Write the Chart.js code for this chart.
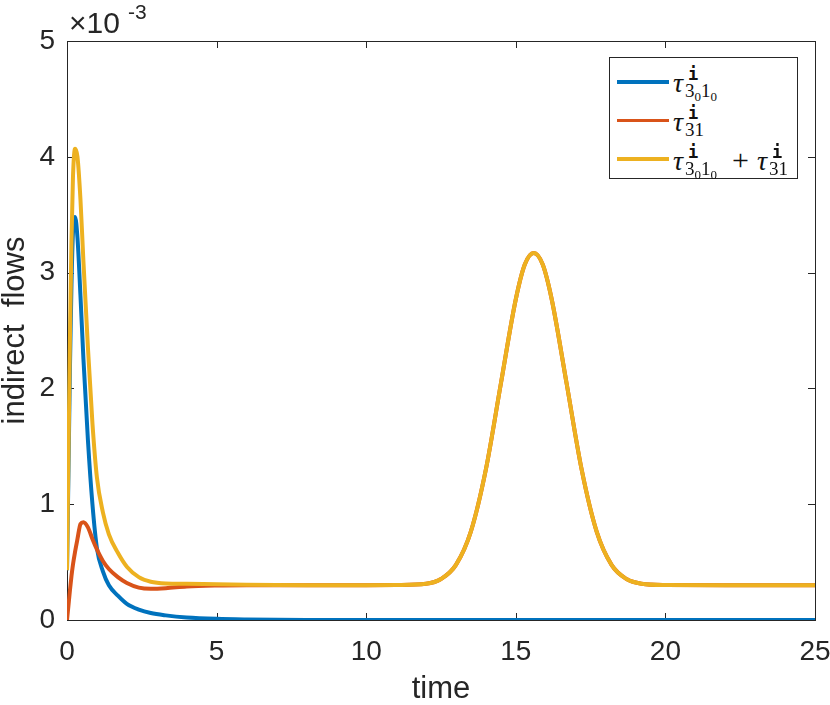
<!DOCTYPE html>
<html>
<head>
<meta charset="utf-8">
<script src="https://cdn.jsdelivr.net/npm/chart.js@4.4.0/dist/chart.umd.min.js"></script>
<style>
  body { margin: 0; background: #fff; }
  #wrap { position: relative; width: 830px; height: 705px; }
  .ex { position: absolute; font-family: "Liberation Sans", Arial, sans-serif; color: #262626; line-height: 1; white-space: nowrap; }
  #legend { position: absolute; left: 609px; top: 57px; width: 187px; height: 120px; border: 1px solid #262626; background: #fff; }
  .row { position: absolute; left: 7px; height: 38px; width: 178px; white-space: nowrap; }
  .sw { position: absolute; left: 0; width: 52px; height: 3.5px; }
  .lab { position: absolute; left: 56px; top: 7px; font: italic 28px "Liberation Serif", "DejaVu Serif", serif; line-height: 28px; color: #111; }
  .scr { display: inline-block; position: relative; height: 0; font-style: normal; }
  .sup { position: absolute; left: 5px; top: -26px; font: bold 17px "DejaVu Sans Mono", monospace; line-height: 17px; }
  .sub { position: absolute; left: 2px; top: -11px; font: 19px "Liberation Serif", serif; line-height: 19px; }
  .sub small { font-size: 13px; position: relative; top: 4px; }
  .plus { font-style: normal; font-size: 30px; margin: 0 8px 0 14px; }
</style>
</head>
<body>
<div id="wrap">
  <canvas id="chart" width="830" height="705"></canvas>
  <div class="ex" style="left:69px; top:8px; font-size:30px;">×10</div>
  <div class="ex" style="left:128px; top:1px; font-size:21px;">-3</div>
  <div id="legend"></div>
</div>
<script>
// values, y in units of 1e-3
const time = [0, 0.05, 0.1, 0.15, 0.2, 0.27, 0.35, 0.45, 0.55, 0.7, 0.85, 1.0, 1.2, 1.4, 1.7, 2.0, 2.4, 2.8, 3.3, 4, 5, 6, 8, 10, 11, 12, 12.5, 13, 13.5, 14, 14.5, 15, 15.3, 15.6, 15.9, 16.2, 16.7, 17.2, 17.7, 18.2, 18.7, 19.2, 20, 22, 25];
const tauBlue = [0.43, 1.3, 2.2, 2.9, 3.35, 3.48, 3.3, 2.8, 2.25, 1.55, 1.0, 0.62, 0.42, 0.30, 0.21, 0.14, 0.09, 0.06, 0.04, 0.022, 0.01, 0.005, 0.001, 0, 0, 0, 0, 0, 0, 0, 0, 0, 0, 0, 0, 0, 0, 0, 0, 0, 0, 0, 0, 0, 0];
const tauRed = [0, 0.13, 0.26, 0.38, 0.48, 0.59, 0.7, 0.83, 0.845, 0.8, 0.7, 0.61, 0.51, 0.44, 0.37, 0.32, 0.28, 0.27, 0.275, 0.29, 0.298, 0.30, 0.30, 0.30, 0.302, 0.313, 0.354, 0.476, 0.765, 1.30, 2.04, 2.77, 3.07, 3.17, 3.07, 2.77, 2.04, 1.30, 0.765, 0.476, 0.354, 0.313, 0.302, 0.30, 0.30];
const tauSum = [0.43, 1.43, 2.46, 3.28, 3.83, 4.07, 4.0, 3.63, 3.09, 2.35, 1.7, 1.23, 0.93, 0.74, 0.58, 0.46, 0.37, 0.33, 0.315, 0.312, 0.308, 0.305, 0.301, 0.30, 0.302, 0.313, 0.354, 0.476, 0.765, 1.30, 2.04, 2.77, 3.07, 3.17, 3.07, 2.77, 2.04, 1.30, 0.765, 0.476, 0.354, 0.313, 0.302, 0.30, 0.30];
const xTicks = [0, 5, 10, 15, 20, 25];
const yTicks = [0, 1, 2, 3, 4, 5];
const colors = ['#0072BD', '#D95319', '#EDB120'];
const subA = '3<small>0</small>1<small>0</small>';
const subB = '31';

function pts(ys){ return time.map((t, i) => ({x: t, y: ys[i]})); }
function tau(sub, w){
  return 'τ<span class="scr" style="width:' + w + 'px"><span class="sup">i</span><span class="sub">' + sub + '</span></span>';
}

// legend
const legendRows = [tau(subA, 35), tau(subB, 22), tau(subA, 35) + '<span class="plus">+</span>' + tau(subB, 22)];
const legend = document.getElementById('legend');
legendRows.forEach((html, i) => {
  let row = document.createElement('div');
  row.className = 'row';
  row.style.top = (4 + i * 38.5) + 'px';
  row.innerHTML = '<div class="sw" style="top:18px;background:' + colors[i] + '"></div><div class="lab">' + html + '</div>';
  legend.appendChild(row);
});

const boxTicks = {
  id: 'boxTicks',
  beforeDatasetsDraw(chart){
    const {ctx, chartArea: a, scales: {x, y}} = chart;
    ctx.save();
    ctx.strokeStyle = '#262626';
    ctx.lineWidth = 1;
    ctx.strokeRect(a.left + 0.5, a.top + 0.5, a.right - a.left, a.bottom - a.top);
    ctx.beginPath();
    xTicks.forEach(v => {
      let px = Math.round(x.getPixelForValue(v)) + 0.5;
      ctx.moveTo(px, a.bottom); ctx.lineTo(px, a.bottom - 7);
      ctx.moveTo(px, a.top); ctx.lineTo(px, a.top + 7);
    });
    yTicks.forEach(v => {
      let py = Math.round(y.getPixelForValue(v)) + 0.5;
      ctx.moveTo(a.left, py); ctx.lineTo(a.left + 7, py);
      ctx.moveTo(a.right, py); ctx.lineTo(a.right - 7, py);
    });
    ctx.stroke();
    ctx.restore();
  }
};

const fam = '"Liberation Sans", Arial, sans-serif';
const tickFont = {family: fam, size: 28};
const titleFont = {family: fam, size: 31, lineHeight: 1};
new Chart(document.getElementById('chart'), {
  type: 'line',
  data: {
    datasets: [
      {data: pts(tauBlue), borderColor: colors[0], order: 2},
      {data: pts(tauRed), borderColor: colors[1], order: 1},
      {data: pts(tauSum), borderColor: colors[2], order: 0}
    ]
  },
  options: {
    responsive: false,
    animation: false,
    layout: {padding: {top: 41, right: 15, left: 0, bottom: 0}},
    elements: {
      line: {borderWidth: 4, cubicInterpolationMode: 'monotone', fill: false},
      point: {radius: 0}
    },
    plugins: {legend: {display: false}, tooltip: {enabled: false}},
    scales: {
      x: {
        type: 'linear', min: 0, max: 25,
        afterFit: s => { s.height = 85; s.paddingLeft = 0; s.paddingRight = 0; },
        afterBuildTicks: s => { s.ticks = xTicks.map(v => ({value: v})); },
        grid: {display: false, drawTicks: false},
        border: {display: false},
        ticks: {font: tickFont, color: '#262626', padding: 15, maxRotation: 0},
        title: {display: true, text: 'time', font: titleFont, color: '#262626', padding: {top: 0, bottom: 0}}
      },
      y: {
        min: 0, max: 5,
        afterFit: s => { s.width = 67; s.paddingTop = 0; s.paddingBottom = 0; },
        afterBuildTicks: s => { s.ticks = yTicks.map(v => ({value: v})); },
        grid: {display: false, drawTicks: false},
        border: {display: false},
        ticks: {font: tickFont, color: '#262626', padding: 12},
        title: {display: true, text: 'indirect  flows', font: titleFont, color: '#262626', padding: {top: 0, bottom: 0}}
      }
    }
  },
  plugins: [boxTicks]
});
</script>
</body>
</html>
